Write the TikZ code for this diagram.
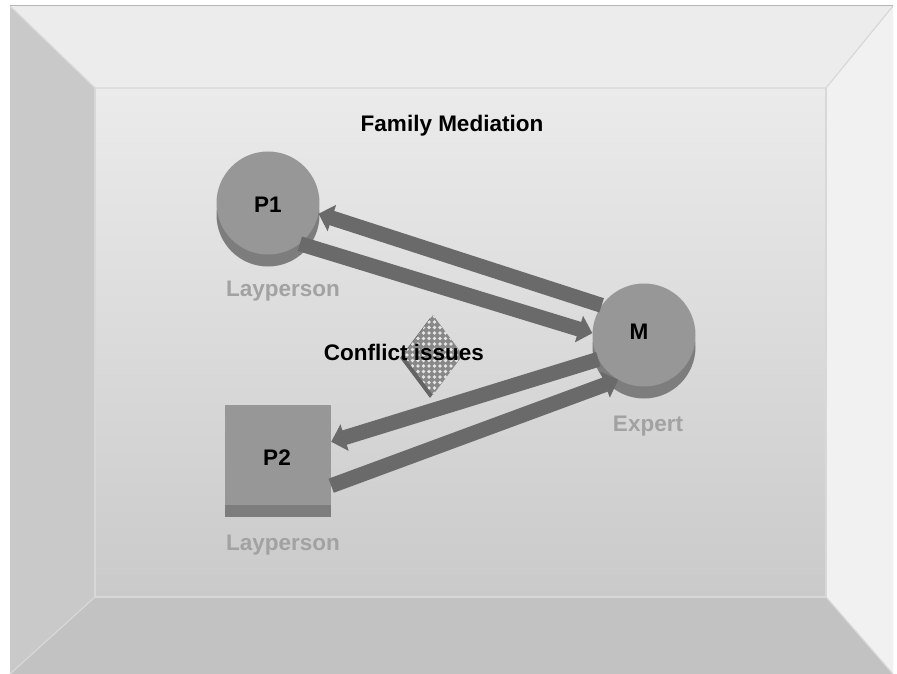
\documentclass[tikz,border=0pt]{standalone}
\usepackage{fontspec}
\setmainfont{Liberation Sans}
\usetikzlibrary{arrows.meta,shapes.geometric,shadows,patterns.meta,positioning}

\definecolor{frametop}{HTML}{ECECEC}
\definecolor{frameleft}{HTML}{C9C9C9}
\definecolor{frameright}{HTML}{F1F1F1}
\definecolor{framebottom}{HTML}{C2C2C2}
\definecolor{innertop}{HTML}{EBEBEB}
\definecolor{innerbottom}{HTML}{CACACA}
\definecolor{seam}{HTML}{D8D8D8}
\definecolor{discgray}{HTML}{979797}
\definecolor{discside}{HTML}{7D7D7D}
\definecolor{arrowgray}{HTML}{6A6A6A}
\definecolor{lblgray}{HTML}{A2A2A2}

\begin{document}
\begin{tikzpicture}[%
      x=1pt, y=-1pt,                          % pixel-like coordinates, top down
      >={Triangle[length=14pt,width=27pt]},   % block arrow heads
      font=\bfseries\fontsize{22.5}{26}\selectfont,
      ]
  \tikzset{
    disc/.style={circle, fill=discgray, minimum size=103pt, inner sep=0pt,
      copy shadow={shadow xshift=0pt, shadow yshift=-12pt, fill=discside, draw=none}},
    box/.style={rectangle, fill=discgray, minimum width=106pt, minimum height=100pt, inner sep=0pt,
      copy shadow={shadow xshift=0pt, shadow yshift=-12pt, fill=discside, draw=none}},
    issue/.style={diamond, aspect=0.75, minimum width=60pt, minimum height=80pt, inner sep=0pt,
      fill=discgray!90!black,
      postaction={pattern={Dots[distance=5.5pt, radius=1.8pt]}, pattern color=white!80!gray},
      copy shadow={shadow xshift=-3pt, shadow yshift=-3pt, fill=discside!80!black, draw=none}},
    tag/.style={anchor=base, text=black},
    lbl/.style={anchor=base, text=lblgray},
    flow/.style={->, draw=arrowgray, line width=15pt},
  }

  \useasboundingbox (0,0) rectangle (897,674);

  % Frame
  \fill[white] (0,0) rectangle (897,674);
  \fill[frametop]    (10,6) -- (893,6) -- (826,88) -- (95,88) -- cycle;
  \fill[frameleft]   (10,6) -- (95,88) -- (95,597) -- (10,674) -- cycle;
  \fill[frameright]  (893,6) -- (893,674) -- (826,597) -- (826,88) -- cycle;
  \fill[framebottom] (10,674) -- (95,597) -- (826,597) -- (893,674) -- cycle;
  \shade[top color=innertop, bottom color=innerbottom] (95,88) rectangle (826,597);
  \draw[seam, line width=1.2pt] (10,6) -- (95,88) -- (826,88) -- (893,6);
  \draw[seam, line width=1.2pt] (95,88) -- (95,597) -- (826,597) -- (826,88);
  \draw[seam, line width=1.2pt] (10,674) -- (95,597) (826,597) -- (893,674);
  \draw[frameleft!90!black, line width=1pt] (10,6) -- (893,6);

  % Shapes
  \node[disc]  (P1) at (268,203) {};
  \node[disc]  (M)  at (644,335) {};
  \node[box]   (P2) at (278,455) {};
  \node[issue] (C)  at (433,355) {};

  % Flows
  \draw[flow] (M.145)  -- (P1.-12);
  \draw[flow] (P1.-52) -- (M.178);
  \draw[flow] (M.208)  -- (P2.14);
  \draw[flow] (P2.-30) -- (M.240);

  % Texts
  \node[tag] (title) at (452,132) {Family Mediation};
  \node[tag] (tP1)   at (268,212) {P1};
  \node[tag] (tM)    at (639,339) {M};
  \node[tag] (tP2)   at (277,465) {P2};
  \node[tag] (tC)    at (404,360) {Conflict issues};
  \node[lbl] (l1)    at (283,296) {Layperson};
  \node[lbl] (l2)    at (283,550) {Layperson};
  \node[lbl] (l3)    at (648,431) {Expert};
\end{tikzpicture}
\end{document}
